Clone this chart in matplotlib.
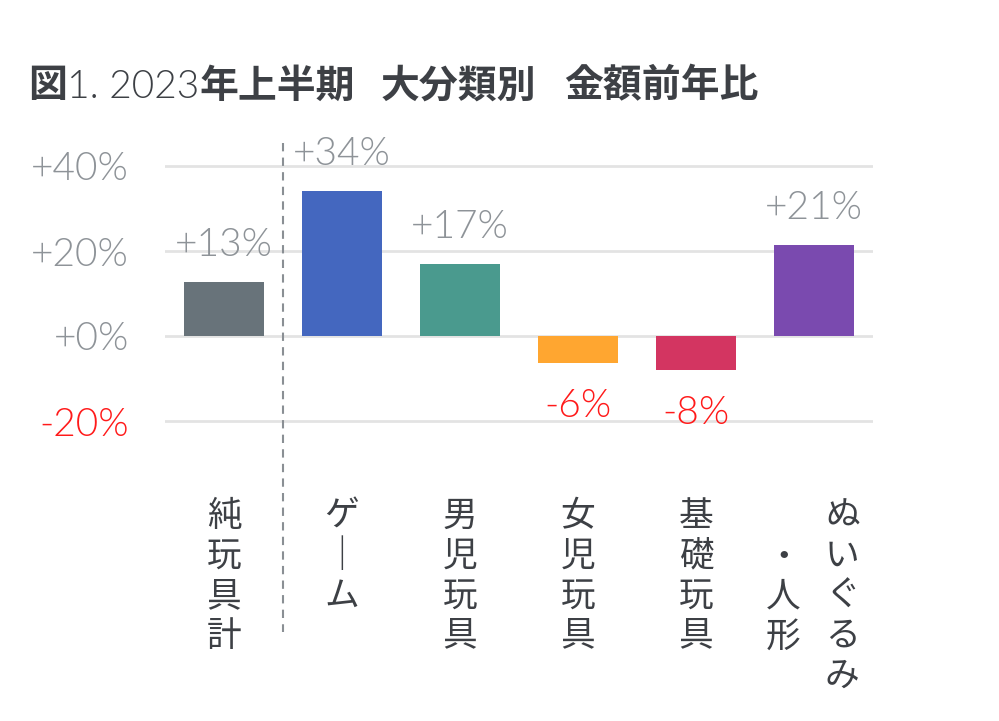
import matplotlib
matplotlib.use("Agg")
import matplotlib.pyplot as plt
import matplotlib.transforms as mtransforms
from matplotlib.offsetbox import TextArea, HPacker, AnchoredOffsetbox, DrawingArea

categories = ["純玩具計", "ゲーム", "男児玩具", "女児玩具", "基礎玩具", "ぬいぐるみ・人形"]
values = [12.7, 34.1, 16.9, -6.3, -8.0, 21.4]
colors = ["#68737a", "#4467bf", "#4a9a8e", "#ffa630", "#d33561", "#7a4aaf"]
ticks = [-20, 0, 20, 40]

# 縦書きラベル (列ごと)
label_cols = [["純玩具計"], ["ゲ｜ム"], ["男児玩具"], ["女児玩具"], ["基礎玩具"], ["ぬいぐるみ", "・人形"]]

GRAY = "#8e9398"
RED = "#ff1a1a"
DARK = "#3d4045"
JP = ["Noto Sans CJK JP", "DejaVu Sans"]
LAT = ["Lato", "Noto Sans CJK JP"]
LW = 300

fig = plt.figure(figsize=(9.99, 7.21), dpi=100)
W, H = 999, 721
ax = fig.add_axes([165 / W, 1 - 484.75 / H, (873 - 165) / W, 340 / H])

x = list(range(len(categories)))
ax.bar(x, values, width=0.67, color=colors, zorder=3)
ax.set_xlim(-0.5, 5.5)
ax.set_ylim(-35, 45)
ax.set_yticks(ticks)
ax.set_yticklabels([f"{t:+d}%" for t in ticks])
ax.set_xticks([])
for lab, t in zip(ax.get_yticklabels(), ticks):
    lab.set_color(RED if t < 0 else GRAY)
    lab.set_fontfamily(LAT)
    lab.set_fontweight(LW)
    lab.set_fontsize(28)
ax.tick_params(axis="y", length=0, pad=26)
ax.grid(axis="y", color="#e3e3e3", lw=2, zorder=0)
for s in ax.spines.values():
    s.set_visible(False)

# 値ラベル
for i, v in enumerate(values):
    txt = f"{round(v):+d}%"
    if v >= 0:
        ax.annotate(txt, (i, v), xytext=(0, 19), textcoords="offset points",
                    ha="center", va="baseline", color=GRAY, fontsize=28,
                    fontfamily=LAT, fontweight=LW)
    else:
        ax.annotate(txt, (i, v), xytext=(0, -18), textcoords="offset points",
                    ha="center", va="top", color=RED, fontsize=28,
                    fontfamily=LAT, fontweight=LW)

# 区切りの破線
trans = mtransforms.blended_transform_factory(ax.transData, fig.transFigure)
ax.plot([0.5, 0.5], [1 - 143 / H, 1 - 632 / H], transform=trans, clip_on=False,
        color="#8a8f94", lw=1.5, ls=(0, (4, 3)))

# 縦書きカテゴリ
top = 1 - 499 / H
ls = 1.18
for i, cols in enumerate(label_cols):
    if len(cols) == 1:
        ax.text(i, top, "\n".join(cols[0]), transform=trans, ha="center", va="top",
                fontsize=25, fontfamily=JP, color=DARK, linespacing=ls)
    else:
        n = max(len(c) for c in cols)
        for k, c in enumerate(cols):
            dx = 0.24 - k * 0.5
            ax.annotate("\n".join(c), (i + dx, top), xycoords=trans,
                        xytext=(0, -(n - len(c)) / 2 * 25 * ls), textcoords="offset points",
                        ha="center", va="top", fontsize=25, fontfamily=JP, color=DARK,
                        linespacing=ls)

# タイトル
bold = dict(fontsize=28, fontfamily=JP, fontweight="bold", color=DARK)
thin = dict(fontsize=28, fontfamily=LAT, fontweight=LW, color=DARK)
box = HPacker(children=[TextArea("図", textprops=bold),
                        TextArea("1. 2023", textprops=thin),
                        TextArea("年上半期", textprops=bold),
                        DrawingArea(19, 1),
                        TextArea("大分類別", textprops=bold),
                        DrawingArea(20, 1),
                        TextArea("金額前年比", textprops=bold)],
              align="baseline", pad=0, sep=0)
anc = AnchoredOffsetbox(loc="center left", child=box, frameon=False,
                        bbox_to_anchor=(28 / W, 1 - 86 / H), bbox_transform=fig.transFigure,
                        borderpad=0, pad=0)
fig.add_artist(anc)

fig.savefig("out.png", dpi=100)
